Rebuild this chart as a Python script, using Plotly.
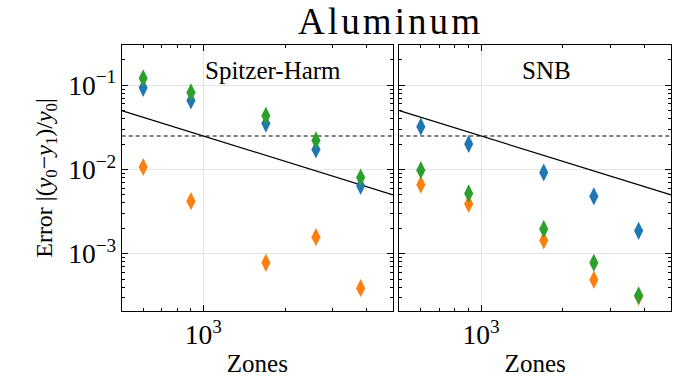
import plotly.graph_objects as go

zones = [600, 900, 1700, 2600, 3800]

sh_blue = [0.093, 0.066, 0.035, 0.0173, 0.0064]
sh_orange = [0.0107, 0.0042, 0.00078, 0.00157, 0.00039]
sh_green = [0.121, 0.082, 0.0433, 0.0221, 0.008]

snb_blue = [0.0322, 0.0201, 0.0092, 0.0048, 0.00187]
snb_orange = [0.0066, 0.0039, 0.00144, 0.00049, 0.00031]
snb_green = [0.0098, 0.0052, 0.00196, 0.00078, 0.00032]

ref_x = [500, 5000]
ref_slope_y = [25 / x for x in ref_x]
ref_flat_y = [0.025, 0.025]

colors = ["#1f77b4", "#ff7f0e", "#2ca02c"]
FONT = "Liberation Serif"
TITLE = "\u200a".join("Aluminum")

fig = go.Figure()

panels = [
    ("x", "y", [sh_blue, sh_orange, sh_green]),
    ("x2", "y2", [snb_blue, snb_orange, snb_green]),
]
for xa, ya, series in panels:
    fig.add_trace(go.Scatter(x=ref_x, y=ref_slope_y, xaxis=xa, yaxis=ya, mode="lines",
                             line=dict(color="black", width=1.2), showlegend=False))
    fig.add_trace(go.Scatter(x=ref_x, y=ref_flat_y, xaxis=xa, yaxis=ya, mode="lines",
                             line=dict(color="black", width=1.1, dash="4px,3px"), showlegend=False))
    for vals, c in zip(series, colors):
        fig.add_trace(go.Scatter(x=zones, y=vals, xaxis=xa, yaxis=ya, mode="markers",
                                 marker=dict(symbol="diamond-tall", size=13, color=c,
                                             line=dict(width=0)),
                                 showlegend=False))

common_axis = dict(
    type="log",
    showline=True, linecolor="black", linewidth=1.2, mirror="allticks",
    ticks="inside", ticklen=6, tickwidth=1, tickcolor="black",
    showgrid=True, gridcolor="#e3e3e3", gridwidth=1,
    zeroline=False,
    dtick=1, exponentformat="power", showexponent="all",
    tickfont=dict(family=FONT, size=22, color="black"),
    minor=dict(ticks="inside", ticklen=3, tickcolor="black", showgrid=False, dtick="D1"),
)

xr = [2.699, 3.699]
yr = [-3.682, -0.52]

fig.update_layout(
    width=675, height=377,
    margin=dict(l=0, r=0, t=0, b=0),
    plot_bgcolor="white", paper_bgcolor="white",
    font=dict(family=FONT, color="black"),
    xaxis=dict(common_axis, domain=[0.1803, 0.5822], range=xr, anchor="y",
               title=dict(text="Zones", font=dict(family=FONT, size=25), standoff=9)),
    xaxis2=dict(common_axis, domain=[0.5916, 0.9941], range=xr, anchor="y2",
                title=dict(text="Zones", font=dict(family=FONT, size=25), standoff=9)),
    yaxis=dict(common_axis, domain=[0.138, 0.876], range=yr, anchor="x",
               title=dict(text="Error |(<i>y</i><sub>0</sub>−<i>y</i><sub>1</sub>)/<i>y</i><sub>0</sub>|",
                          font=dict(family=FONT, size=24), standoff=8)),
    yaxis2=dict(common_axis, domain=[0.138, 0.876], range=yr, anchor="x2", showticklabels=False),
    annotations=[
        dict(text=TITLE, x=389 / 675, y=1 - 22 / 377, xref="paper", yref="paper",
             showarrow=False, font=dict(family=FONT, size=37), xanchor="center", yanchor="middle"),
        dict(text="Spitzer-Harm", x=0.558, y=0.905, xref="x domain", yref="y domain",
             showarrow=False, font=dict(family=FONT, size=25), xanchor="center", yanchor="middle"),
        dict(text="SNB", x=0.54, y=0.905, xref="x2 domain", yref="y2 domain",
             showarrow=False, font=dict(family=FONT, size=25), xanchor="center", yanchor="middle"),
    ],
)

fig.write_html("out.html")
